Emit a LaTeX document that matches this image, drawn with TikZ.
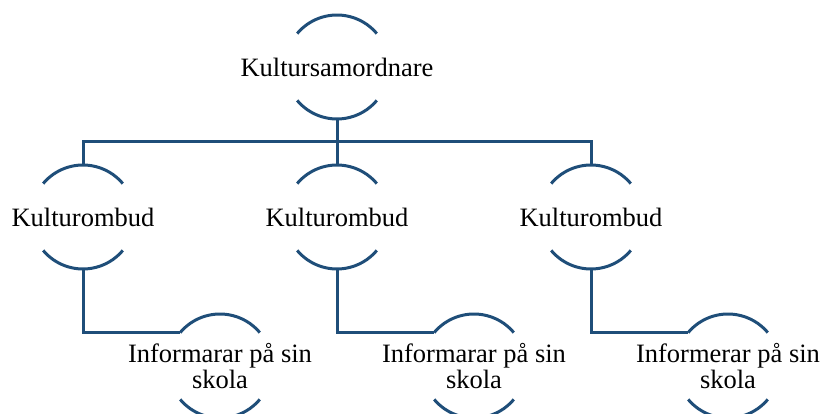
\documentclass[tikz,border=0pt]{standalone}
\usepackage{fontspec}
\setmainfont{Liberation Serif}
\definecolor{chartblue}{HTML}{1F4E79}

\begin{document}
\begin{tikzpicture}[x=1pt, y=1pt,
    arcline/.style={chartblue, line width=3pt},
    link/.style={chartblue, line width=3pt},
    box/.style={font=\fontsize{26.5}{26.5}\selectfont, align=center, inner sep=0pt}]
    \useasboundingbox (0,0) rectangle (822,-414);
    \def\r{52pt}

    \node[box] (top) at (337,-67) {Kultursamordnare};

    \node[box] (kb1) at (83,-217) {Kulturombud};
    \node[box] (kb2) at (337,-217) {Kulturombud};
    \node[box] (kb3) at (591,-217) {Kulturombud};

    \node[box] (inf1) at (220,-366) {Informarar på sin\\skola};
    \node[box] (inf2) at (474,-366) {Informarar på sin\\skola};
    \node[box] (inf3) at (728,-366) {Informerar på sin\\skola};

    % arcs above and below each text
    \foreach \n in {top,kb1,kb2,kb3,inf1,inf2,inf3} {
      \draw[arcline] ([shift={(140:\r)}]\n.center) arc (140:40:\r);
      \draw[arcline] ([shift={(220:\r)}]\n.center) arc (220:320:\r);
      \coordinate (\n-n) at ([yshift=\r]\n.center);
      \coordinate (\n-s) at ([yshift=-\r]\n.center);
      \coordinate (\n-w) at ([shift={(140:\r)}]\n.center);
    }

    \coordinate (bus) at (0,-142);
    \draw[link] (top-s) -- (top-s |- bus) -| (kb1-n);
    \draw[link] (top-s) -- (kb2-n);
    \draw[link] (top-s) -- (top-s |- bus) -| (kb3-n);

    \draw[link] (kb1-s) |- (inf1-w);
    \draw[link] (kb2-s) |- (inf2-w);
    \draw[link] (kb3-s) |- (inf3-w);
\end{tikzpicture}
\end{document}
